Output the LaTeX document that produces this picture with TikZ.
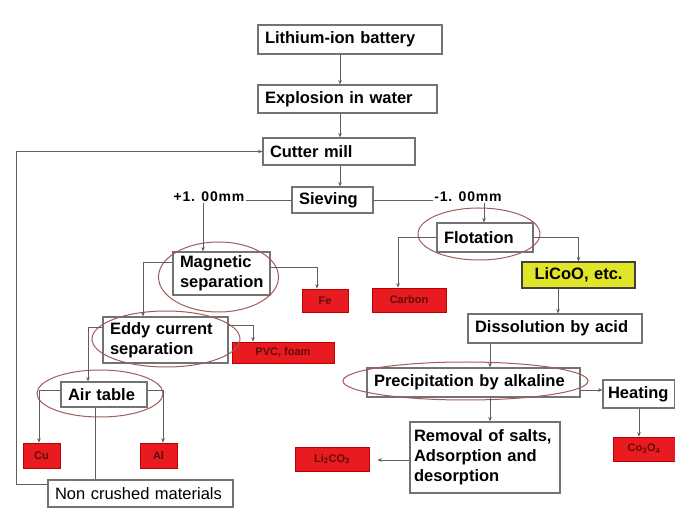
\documentclass[tikz,border=0pt]{standalone}
\usepackage{fontspec}
\setmainfont{Liberation Sans}
\usetikzlibrary{arrows.meta,shapes.geometric}
\definecolor{boxgray}{RGB}{115,115,115}
\definecolor{linegray}{RGB}{95,95,95}
\definecolor{ellcol}{RGB}{165,90,90}
\definecolor{boxred}{RGB}{232,28,32}
\definecolor{darkred}{RGB}{100,10,10}
\definecolor{yel}{RGB}{226,228,40}
\begin{document}
\begin{tikzpicture}[x=1pt,y=-1pt,
  bx/.style={draw=boxgray, line width=1.1pt, fill=white, inner xsep=7pt, inner ysep=2pt,
    align=left, font=\bfseries\fontsize{16.5}{20}\selectfont},
  ybx/.style={bx, fill=yel, draw=black!75, align=center},
  rbx/.style={draw=red!75!black, line width=0.6pt, fill=boxred, text=darkred, inner sep=1pt,
    font=\bfseries\fontsize{11}{13}\selectfont},
  lbl/.style={inner sep=1pt, font=\bfseries\fontsize{14}{16}\selectfont\addfontfeatures{LetterSpace=6}},
  ell/.style={draw=ellcol, line width=1pt, ellipse, inner sep=0pt},
  arr/.style={draw=linegray, line width=0.8pt, -{Stealth[length=4.5pt,width=3.5pt]}},
  ln/.style={draw=linegray, line width=0.8pt}]
\useasboundingbox[fill=white] (0,0) rectangle (675,510);

% main column
\node[bx, text width=170pt, minimum height=29pt] (lib) at (350,39.5) {Lithium-ion battery};
\node[bx, text width=165pt, minimum height=28pt] (exp) at (347.5,99) {Explosion in water};
\node[bx, text width=138pt, minimum height=27pt] (cut) at (339,151.5) {Cutter mill};
\node[bx, text width=67pt, minimum height=26pt] (sv) at (332.5,200) {Sieving};
\node[lbl] (lp) at (209,197) {+1. 00mm};
\node[lbl] (lm) at (468,197) {-1. 00mm};

% right branch
\node[bx, text width=82pt, minimum height=29pt] (flot) at (485,237.5) {Flotation};
\node[rbx, minimum width=74pt, minimum height=24pt] (carb) at (409,300) {Carbon};
\node[ybx, text width=99pt, minimum height=26pt] (lico) at (578.5,275) {LiCoO, etc.};
\node[bx, text width=160pt, minimum height=29pt] (dis) at (555,328.5) {Dissolution by acid};
\node[bx, text width=199pt, minimum height=29pt] (prec) at (473.5,382.5) {Precipitation by alkaline};
\node[bx, inner xsep=5pt, text width=62pt, minimum height=28pt] (heat) at (639,394) {Heating};
\node[rbx, minimum width=62pt, minimum height=24pt] (co) at (644,449) {Co\textsubscript{3}O\textsubscript{4}};
\node[bx, inner xsep=4pt, text width=142pt, minimum height=71pt] (rem) at (485,457.5) {Removal of salts,\\Adsorption and\\desorption};
\node[rbx, minimum width=74pt, minimum height=24pt] (li) at (332,459) {Li\textsubscript{2}CO\textsubscript{3}};

% left branch
\node[bx, text width=83pt, minimum height=43pt] (mag) at (221.5,273.5) {Magnetic\\separation};
\node[rbx, minimum width=46pt, minimum height=23pt] (fe) at (325,300.5) {Fe};
\node[bx, text width=111pt, minimum height=46pt] (eddy) at (165.5,340) {Eddy current\\separation};
\node[rbx, minimum width=102pt, minimum height=21pt] (pvc) at (283,352.5) {PVC, foam};
\node[bx, text width=72pt, minimum height=25pt] (air) at (104,394.5) {Air table};
\node[rbx, minimum width=37pt, minimum height=25pt] (cu) at (41.5,455.5) {Cu};
\node[rbx, minimum width=37pt, minimum height=25pt] (al) at (158.5,455.5) {Al};
\node[bx, font=\fontsize{16.5}{20}\selectfont, text width=171pt, minimum height=27pt] (nc) at (140.5,493.5) {Non crushed materials};

% ellipses
\node[ell, minimum width=122pt, minimum height=52pt] (eflot) at (479,234) {};
\node[ell, minimum width=120pt, minimum height=70pt] (emag) at (218.5,277) {};
\node[ell, minimum width=148pt, minimum height=56pt] (eeddy) at (166,339) {};
\node[ell, minimum width=126pt, minimum height=47pt] (eair) at (100,393.5) {};
\node[ell, minimum width=245pt, minimum height=38pt] (eprec) at (465.5,381) {};

% connectors
\coordinate (ax) at (340,0);
\coordinate (px) at (490,0);
\coordinate (fb) at (16,0);
\draw[arr] (lib.south -| ax) -- (exp.north -| ax);
\draw[arr] (exp.south -| ax) -- (cut.north -| ax);
\draw[arr] (cut.south -| ax) -- (sv.north -| ax);
\draw[ln] (sv.west) -- (sv.west -| lp.east);
\draw[arr] ([xshift=-6pt]lp.south) -- ([xshift=-6pt]lp.south |- mag.north);
\draw[ln] (sv.east) -- (sv.east -| lm.west);
\draw[arr] ([xshift=16pt]lm.south) -- ([xshift=16pt]lm.south |- flot.north);

\draw[arr] (flot.west) -| ([xshift=-11pt]carb.north);
\draw[arr] (flot.east) -| (lico.north);
\draw[arr] ([xshift=-20.5pt]lico.south) -- ([xshift=-20.5pt]lico.south |- dis.north);
\draw[arr] (dis.south -| px) -- (prec.north -| px);
\draw[arr] ([yshift=-7.5pt]prec.east) -- ([yshift=4pt]heat.west);
\draw[arr] (heat.south) -- (heat.south |- co.north);
\draw[arr] (prec.south -| px) -- (rem.north -| px);
\draw[arr, shorten >=8pt] ([yshift=-2.5pt]rem.west) -- ([yshift=-2.5pt]rem.west -| li.east);

\draw[arr] ([yshift=6.5pt]mag.east) -| ([xshift=-8pt]fe.north);
\draw[arr] ([yshift=11.5pt]mag.west) -| ([xshift=-22.5pt]eddy.north);
\draw[arr] ([yshift=15pt]eddy.east) -| ([xshift=-30pt]pvc.north);
\draw[arr] ([yshift=13pt]eddy.west) -| ([xshift=-16pt]air.north);
\draw[arr] ([yshift=4.5pt]air.west) -| ([xshift=-2.5pt]cu.north);
\draw[arr] ([yshift=4.5pt]air.east) -| ([xshift=4.5pt]al.north);
\draw[ln] ([xshift=-9pt]air.south) -- ([xshift=-9pt]air.south |- nc.north);
\draw[arr] ([yshift=9.5pt]nc.west) -| (fb |- cut.west) -- (cut.west);
\end{tikzpicture}
\end{document}
